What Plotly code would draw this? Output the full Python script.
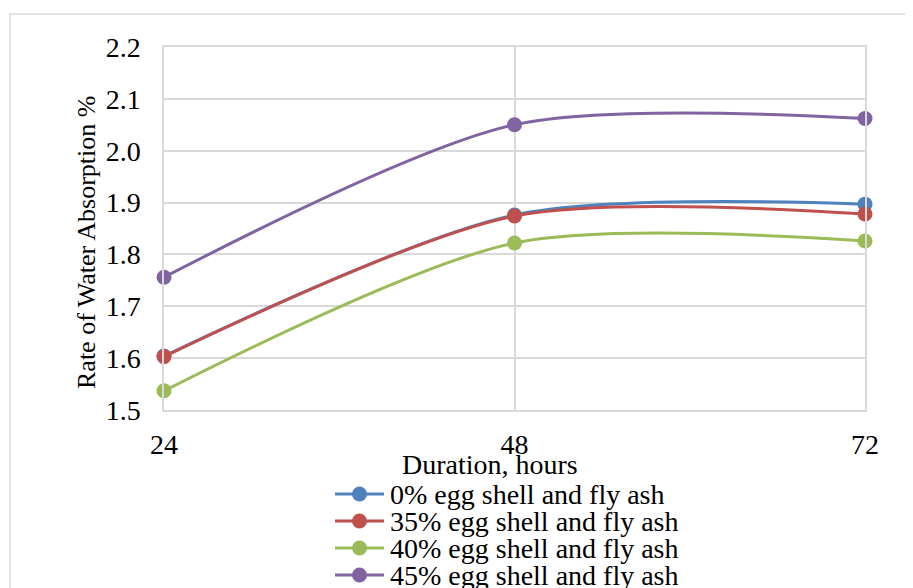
import plotly.graph_objects as go

hours = [24, 48, 72]
series_names = [
    "0% egg shell and fly ash",
    "35% egg shell and fly ash",
    "40% egg shell and fly ash",
    "45% egg shell and fly ash",
]
s0 = [1.604, 1.876, 1.897]
s35 = [1.603, 1.874, 1.878]
s40 = [1.537, 1.822, 1.826]
s45 = [1.756, 2.050, 2.062]
colors = ["#4F81BD", "#C0504D", "#9BBB59", "#8064A2"]
y_ticks = [1.5, 1.6, 1.7, 1.8, 1.9, 2.0, 2.1, 2.2]
x_title = "Duration, hours"
y_title = "Rate of Water Absorption %"

FONT = "Liberation Serif, Times New Roman, serif"
FS = 28
W, H = 913, 588
OFF = 8  # page body margin
PL, PT, PR, PB = 164, 47, 865, 410  # target plot box in screen pixels
pw, ph = PR - PL, PB - PT
L, T = PL - OFF, PT - OFF
R, B = W - L - pw, H - T - ph


def px(x):
    return (x - PL) / pw


def py(y):
    return (PB - y) / ph


fig = go.Figure()
for name, vals, c in zip(series_names, [s0, s35, s40, s45], colors):
    fig.add_trace(go.Scatter(
        x=hours, y=vals, name=name, mode="lines+markers",
        line=dict(color=c, width=3, shape="spline", smoothing=0.8),
        marker=dict(color=c, size=15),
        cliponaxis=False, showlegend=False,
    ))

fig.update_layout(
    width=W, height=H,
    margin=dict(l=L, r=R, t=T, b=B, autoexpand=False),
    paper_bgcolor="white", plot_bgcolor="white",
    font=dict(family=FONT, size=FS, color="black"),
    showlegend=False,
    xaxis=dict(
        range=[24, 72], tickvals=hours, ticktext=[str(h) for h in hours],
        showgrid=True, gridcolor="#d9d9d9", gridwidth=1.5,
        showline=True, linecolor="#d9d9d9", linewidth=1.5, mirror=True,
        zeroline=False, ticks="", tickfont=dict(size=FS),
        ticklabelstandoff=9, automargin=False,
    ),
    yaxis=dict(
        range=[1.5, 2.2], tickvals=y_ticks, ticktext=[f"{v:.1f}" for v in y_ticks],
        showgrid=True, gridcolor="#d9d9d9", gridwidth=1.5,
        showline=True, linecolor="#d9d9d9", linewidth=1.5, mirror=True,
        zeroline=False, ticks="", tickfont=dict(size=FS),
        ticklabelstandoff=16, automargin=False,
    ),
)

# axis titles
fig.add_annotation(text=x_title, xref="paper", yref="paper",
                   x=px(490), y=py(464), xanchor="center", yanchor="middle",
                   showarrow=False, font=dict(size=FS))
fig.add_annotation(text=y_title, xref="paper", yref="paper",
                   x=px(86), y=py(243), xanchor="center", yanchor="middle",
                   textangle=-90, showarrow=False, font=dict(size=26))

# legend drawn manually
leg_y = [494, 521, 548, 575]
for name, c, yy in zip(series_names, colors, leg_y):
    fig.add_shape(type="line", xref="paper", yref="paper",
                  x0=px(335), x1=px(384), y0=py(yy), y1=py(yy),
                  line=dict(color=c, width=3))
    fig.add_shape(type="circle", xref="paper", yref="paper",
                  x0=px(352), x1=px(367), y0=py(yy - 7.5), y1=py(yy + 7.5),
                  line=dict(color=c, width=0), fillcolor=c)
    fig.add_annotation(text=name, xref="paper", yref="paper",
                       x=px(388), y=py(yy), xanchor="left", yanchor="middle",
                       showarrow=False, font=dict(size=FS))

# chart-area border
fig.add_shape(
    type="rect", xref="paper", yref="paper",
    x0=px(10), x1=px(W + 5), y0=py(H + 5), y1=py(14),
    line=dict(color="#d9d9d9", width=1.5), fillcolor="rgba(0,0,0,0)", layer="below",
)

fig.write_html("out.html")
